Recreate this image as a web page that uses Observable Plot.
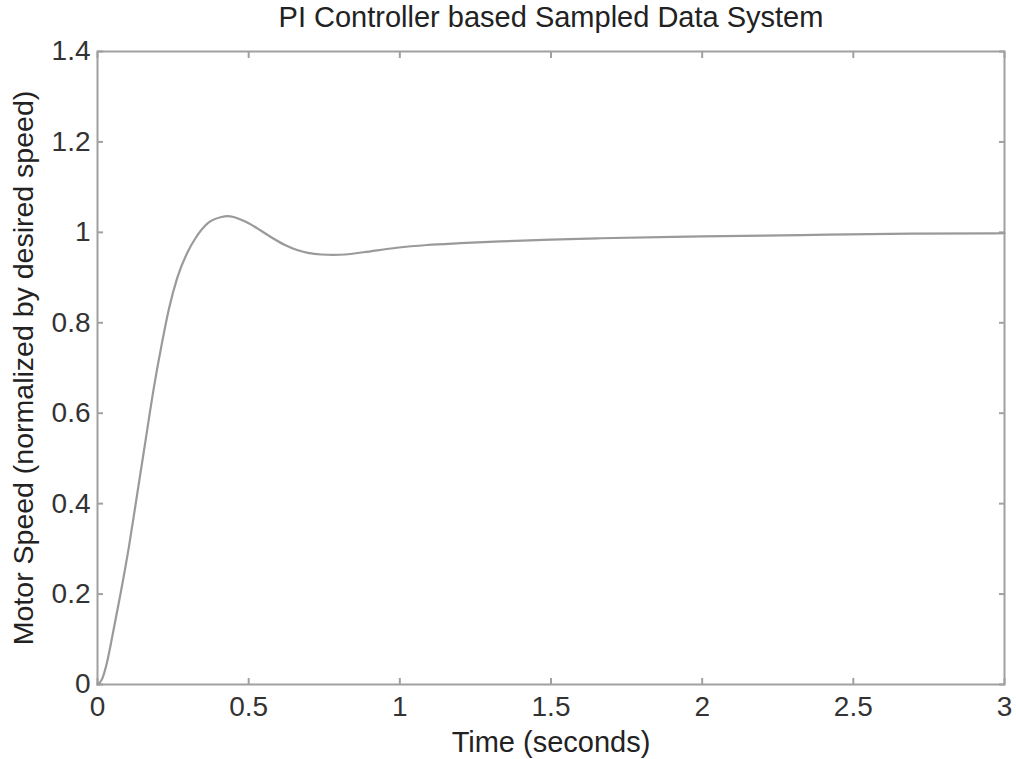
<!DOCTYPE html>
<html>
<head>
<meta charset="utf-8">
<script src="https://cdn.jsdelivr.net/npm/d3@7"></script>
<script src="https://cdn.jsdelivr.net/npm/@observablehq/plot@0.6"></script>
<style>
  html, body { margin: 0; padding: 0; background: #fff; }
  #chart { width: 1016px; height: 759px; }
</style>
</head>
<body>
<div id="chart"></div>
<script>
const titleText = "PI Controller based Sampled Data System";
const xLabel = "Time (seconds)";
const yLabel = "Motor Speed (normalized by desired speed)";

const xTicks = [0, 0.5, 1, 1.5, 2, 2.5, 3];
const yTicks = [0, 0.2, 0.4, 0.6, 0.8, 1, 1.2, 1.4];

const time = [0, 0.015, 0.03, 0.05, 0.076, 0.104, 0.131, 0.159, 0.186, 0.214, 0.236, 0.264, 0.297, 0.324, 0.368, 0.41, 0.43, 0.45, 0.475, 0.50, 0.54, 0.58, 0.62, 0.66, 0.70, 0.74, 0.78, 0.82, 0.88, 0.99, 1.09, 1.2, 1.333, 1.5, 1.664, 2.0, 2.325, 2.69, 3.0];
const speed = [0, 0.012, 0.045, 0.11, 0.2, 0.305, 0.42, 0.54, 0.655, 0.758, 0.83, 0.9, 0.955, 0.987, 1.022, 1.034, 1.036, 1.034, 1.028, 1.020, 1.004, 0.987, 0.972, 0.961, 0.954, 0.951, 0.950, 0.951, 0.956, 0.966, 0.972, 0.976, 0.980, 0.984, 0.987, 0.991, 0.994, 0.997, 0.998];

const data = time.map((t, i) => ({t, v: speed[i]}));
const fmt = d => String(+d.toFixed(2));
const blank = () => "";
const frameColor = "#a0a0a0";
const textColor = "#333";

const chart = Plot.plot({
  width: 1016,
  height: 759,
  marginLeft: 97,
  marginRight: 12,
  marginTop: 51,
  marginBottom: 75,
  style: {fontFamily: "'Liberation Sans', Arial, Helvetica, sans-serif", fontSize: "28px", color: textColor, background: "#fff"},
  x: {domain: [0, 3]},
  y: {domain: [0, 1.4]},
  marks: [
    Plot.frame({stroke: frameColor, strokeWidth: 2}),
    Plot.axisX(xTicks, {anchor: "bottom", tickSize: -6, tickFormat: blank, stroke: frameColor, strokeWidth: 2, label: null}),
    Plot.axisX(xTicks, {anchor: "top", tickSize: -6, tickFormat: blank, stroke: frameColor, strokeWidth: 2, label: null}),
    Plot.axisY(yTicks, {anchor: "left", tickSize: -6, tickFormat: blank, stroke: frameColor, strokeWidth: 2, label: null}),
    Plot.axisY(yTicks, {anchor: "right", tickSize: -6, tickFormat: blank, stroke: frameColor, strokeWidth: 2, label: null}),
    Plot.axisX(xTicks, {anchor: "bottom", tickSize: 0, tickPadding: 12, tickFormat: fmt, fill: textColor, fontSize: 28, label: null}),
    Plot.axisY(yTicks, {anchor: "left", tickSize: 0, tickPadding: 7, tickFormat: fmt, fill: textColor, fontSize: 28, label: null}),
    Plot.line(data, {x: "t", y: "v", stroke: "#9a9a9a", strokeWidth: 2.2, curve: "monotone-x"}),
    Plot.text([titleText], {frameAnchor: "top", dy: -34, lineAnchor: "middle", textAnchor: "middle", fill: "#222", fontSize: 29}),
    Plot.text([xLabel], {frameAnchor: "bottom", dy: 58, lineAnchor: "middle", textAnchor: "middle", fill: "#222", fontSize: 29}),
    Plot.text([yLabel], {frameAnchor: "left", dx: -74, rotate: -90, lineAnchor: "middle", textAnchor: "middle", fill: "#222", fontSize: 28.5})
  ]
});
document.getElementById("chart").appendChild(chart);
</script>
</body>
</html>
